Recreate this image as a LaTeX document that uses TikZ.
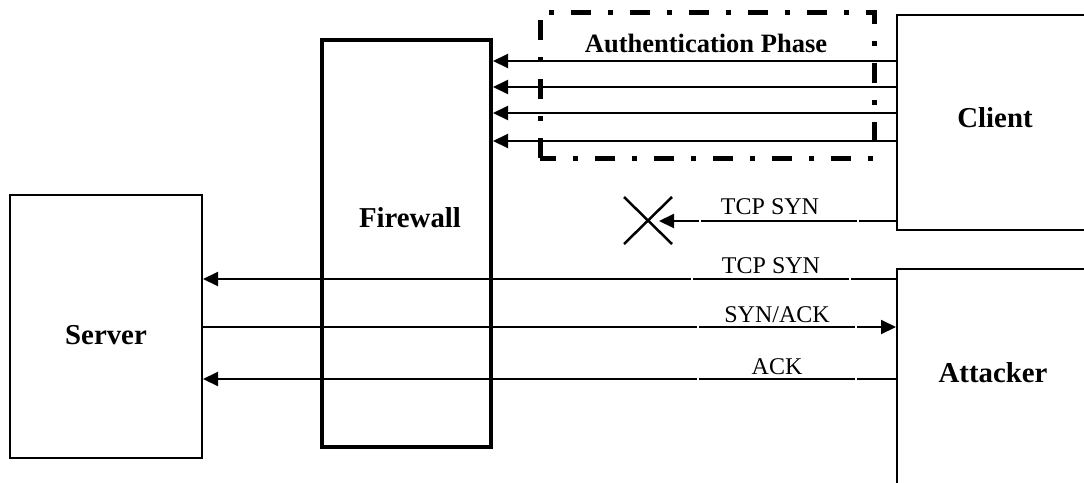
\documentclass[tikz,border=0pt]{standalone}
\usepackage{fontspec}
\setmainfont{Liberation Serif}
\usetikzlibrary{arrows.meta}
\tikzset{
  box/.style={draw, line width=2pt, inner sep=0pt},
  wall/.style={draw, line width=4pt, inner sep=0pt},
  biglbl/.style={anchor=base, inner sep=0pt, font=\fontsize{28.8}{30}\selectfont\bfseries},
  phaselbl/.style={anchor=base, inner sep=0pt, font=\fontsize{26.5}{28}\selectfont\bfseries},
  msglbl/.style={anchor=base, inner sep=0pt, font=\fontsize{24}{26}\selectfont},
  msg/.style={line width=2pt, -{Triangle[length=15pt,width=14pt]}},
  phasebox/.style={line width=5pt, dash pattern=on 20pt off 17pt on 5pt off 17pt},
  gap/.style={draw=white, line width=2pt},
}
\begin{document}
\begin{tikzpicture}[x=1pt, y=-1pt]
  \useasboundingbox (0,0) rectangle (1084,482);
  \clip (0,0) rectangle (1084,482);

  % hosts and firewall
  \node[box, minimum width=192pt, minimum height=263pt] (server) at (106,326.5) {};
  \node[wall, minimum width=169pt, minimum height=407pt] (firewall) at (406.5,243.5) {};
  \node[box, minimum width=196pt, minimum height=215pt] (client) at (995,122.5) {};
  \node[box, minimum width=196pt, minimum height=222pt] (attacker) at (995,380) {};

  \node[biglbl] (serverlbl) at (106,344) {Server};
  \node[biglbl] (firewalllbl) at (410,227) {Firewall};
  \node[biglbl] (clientlbl) at (995,127) {Client};
  \node[biglbl] (attackerlbl) at (993,382) {Attacker};

  % authentication phase
  \draw[phasebox] (540,158) -- (540,12) -- (874,12) -- (874,158) -- cycle;
  \node[phaselbl] (phaselbl) at (706,52) {Authentication Phase};
  \foreach \y in {61,87,113,141}
    \draw[msg] (client.west |- 0,\y) -- (firewall.east |- 0,\y);

  % blocked connection attempt
  \coordinate (blocked) at (659,221);
  \draw[msg] (client.west |- blocked) -- (blocked);
  \draw[line width=2.5pt] (624,197) -- (672,244) (624,244) -- (672,197);
  \node[msglbl] (syn1) at (770,214) {TCP SYN};

  % handshake through the firewall
  \draw[msg] (attacker.west |- 0,279) -- (server.east |- 0,279);
  \draw[msg] (server.east |- 0,327) -- (attacker.west |- 0,327);
  \draw[msg] (attacker.west |- 0,379) -- (server.east |- 0,379);
  \node[msglbl] (syn2) at (771,273) {TCP SYN};
  \node[msglbl] (synack) at (777,322) {SYN/ACK};
  \node[msglbl] (ack) at (777,374) {ACK};

  % small breaks in the message lines
  \draw[gap] (700,219) -- (700,223) (858,219) -- (858,223);
  \draw[gap] (692,277) -- (692,281) (850,277) -- (850,281);
  \draw[gap] (698,325) -- (698,329) (856,325) -- (856,329);
  \draw[gap] (698,377) -- (698,381) (856,377) -- (856,381);
\end{tikzpicture}
\end{document}
